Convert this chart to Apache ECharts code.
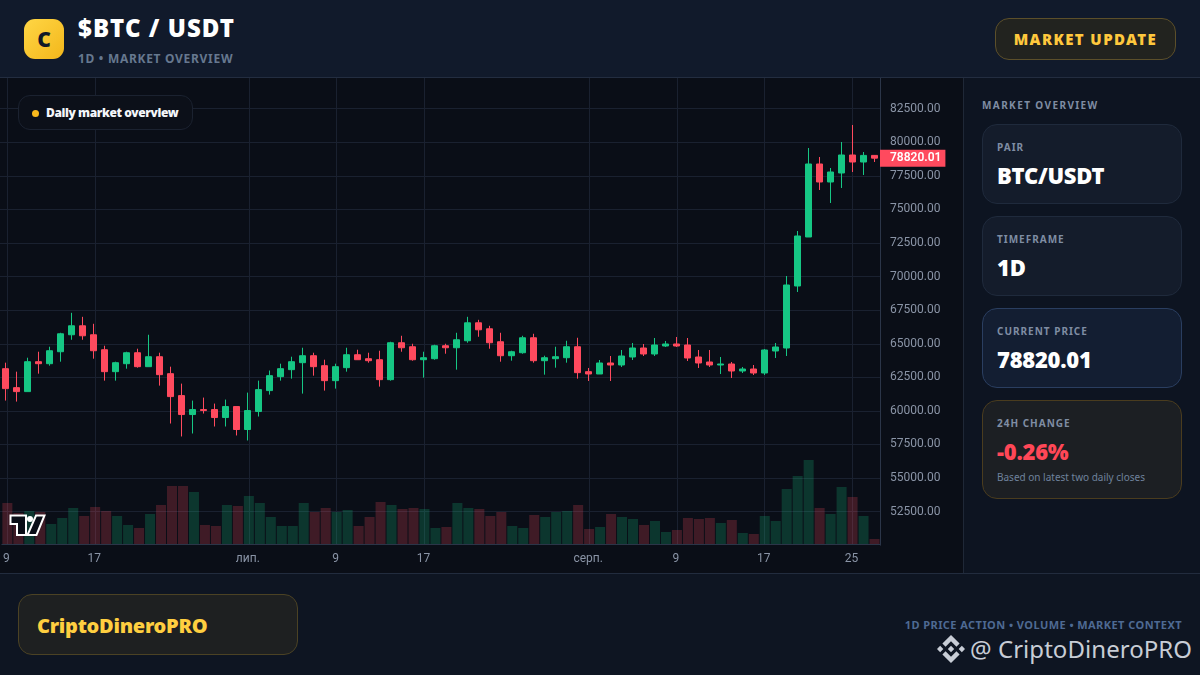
<!DOCTYPE html>
<html lang="uk"><head><meta charset="utf-8">
<script src="https://cdn.jsdelivr.net/npm/echarts@6/dist/echarts.min.js"></script>
<style>
*{box-sizing:border-box;margin:0;padding:0}
html,body{width:1200px;height:675px;overflow:hidden;background:#0d1421;font-family:"Noto Sans",sans-serif}
.abs{position:absolute}
#header{left:0;top:0;width:1200px;height:78px;background:#111a2b;border-bottom:1px solid #232d40}
#logo{left:24px;top:19px;width:40px;height:40px;border-radius:11px;background:linear-gradient(135deg,#ffd645,#f3b71b);color:#111827;font-weight:900;font-size:21px;line-height:40px;text-align:center}
#title{left:78px;top:11px;font-size:24px;line-height:34px;font-weight:900;color:#fff;letter-spacing:1.05px;white-space:nowrap}
#sub{left:78px;top:50px;font-size:12px;line-height:18px;font-weight:700;letter-spacing:.7px;color:#66788f;white-space:nowrap}
#btn{left:995px;top:18px;width:181px;height:42px;border-radius:14px;background:#22231f;border:1px solid #5c4f2a;color:#ffc83d;font-weight:900;font-size:15px;line-height:40px;text-align:center;letter-spacing:1.4px}
#chart{left:0;top:70px;width:963px;height:503px;background:#0a0e17}
#badge{left:18px;top:95px;width:175px;height:35px;border-radius:12px;background:#0c1019;border:1px solid #1b2230;color:#f4f6fa;font-size:12px;font-weight:900;line-height:33px;padding-left:27px;white-space:nowrap;letter-spacing:-.4px}
#badge i{position:absolute;left:13px;top:14px;width:7px;height:7px;border-radius:50%;background:#f9b91d}
#side{left:963px;top:78px;width:237px;height:495px;background:#0d1421;border-left:1px solid #1f2837}
#sideT{left:982px;top:98px;font-size:10px;line-height:14px;font-weight:700;letter-spacing:1.4px;color:#7f8da3;white-space:nowrap}
.card{position:absolute;left:982px;width:200px;border-radius:15px;background:#141c2b;border:1px solid #1f2a3c}
.card .l{position:absolute;left:14px;top:15px;font-size:10px;line-height:14px;font-weight:700;letter-spacing:1px;color:#7f8da3;white-space:nowrap}
.card .v{position:absolute;left:14px;top:33px;font-size:22px;line-height:34px;font-weight:900;color:#fff;white-space:nowrap;letter-spacing:-.25px}
.card .n{position:absolute;left:14px;top:69px;font-size:10px;line-height:14px;color:#6f829c;white-space:nowrap}
#footer{left:0;top:573px;width:1200px;height:102px;background:#0e1522;border-top:1px solid #222c3e}
#brand{left:18px;top:594px;width:280px;height:61px;border-radius:14px;background:#1e2021;border:1px solid #4b4224;color:#ffcf40;font-size:20px;font-weight:900;line-height:62px;padding-left:18px;letter-spacing:-.27px}
#foot{right:18px;top:617px;font-size:11px;line-height:16px;font-weight:700;letter-spacing:.44px;color:#4e6a93;white-space:nowrap}
#wm{left:970px;top:631px;font-size:24px;line-height:36px;color:#c8cdd6;white-space:nowrap;letter-spacing:.05px}
</style></head><body>
<div id="chart" class="abs"></div>
<div id="header" class="abs"></div>
<div id="logo" class="abs">C</div>
<div id="title" class="abs">$BTC / USDT</div>
<div id="sub" class="abs">1D • MARKET OVERVIEW</div>
<div id="btn" class="abs">MARKET UPDATE</div>
<div id="badge" class="abs"><i></i>Daily market overview</div>
<svg class="abs" style="left:9px;top:514px" width="37" height="22" viewBox="0 0 37 22"><path d="M1.500 1.500H17V21H8V10H1.500Z" fill="#0a0e17" stroke="#fff" stroke-width="2"/><circle cx="21" cy="5" r="3" fill="#fff"/><path d="M27 1.500H35.500L27.500 21H18.500Z" fill="#0a0e17" stroke="#fff" stroke-width="2"/></svg>
<div id="side" class="abs"></div>
<div id="sideT" class="abs">MARKET OVERVIEW</div>
<div class="card" style="top:124px;height:80px"><div class="l">PAIR</div><div class="v">BTC/USDT</div></div>
<div class="card" style="top:216px;height:80px"><div class="l">TIMEFRAME</div><div class="v">1D</div></div>
<div class="card" style="top:308px;height:80px;background:#131e32;border-color:#2a3e60"><div class="l">CURRENT PRICE</div><div class="v">78820.01</div></div>
<div class="card" style="top:400px;height:99px;background:#1c1f23;border-color:#4a3c1e"><div class="l">24H CHANGE</div><div class="v" style="color:#ff4757">-0.26%</div><div class="n">Based on latest two daily closes</div></div>
<div id="footer" class="abs"></div>
<div id="brand" class="abs">CriptoDineroPRO</div>
<div id="foot" class="abs">1D PRICE ACTION • VOLUME • MARKET CONTEXT</div>
<svg class="abs" style="left:937px;top:635px" width="28" height="28" viewBox="0 0 126.61 126.61" fill="#c8cdd6"><path d="M38.73 53.2l24.59-24.58 24.6 24.6 14.3-14.31L63.32 0 24.42 38.9zM0 63.31l14.3-14.31 14.31 14.31-14.31 14.3zM38.73 73.41l24.59 24.59 24.6-24.6 14.31 14.29-38.9 38.91-38.91-38.88zM98 63.31l14.3-14.31 14.31 14.3-14.31 14.32zM77.83 63.3L63.32 48.78 52.59 59.51l-1.24 1.23-2.54 2.54 14.51 14.5 14.51-14.47z"/></svg>
<div id="wm" class="abs">@ CriptoDineroPRO</div>
<script>
const opens=[63144,61733,61436,63664,63515,64406,65669,66337,65669,64555,62921,63515,64332,63293,64035,62773,61139,59729,60100,60100,59506,60323,58615,59952,61511,62550,63070,63590,64109,63367,62253,63218,64183,63887,63812,62327,65075,64777,63812,63887,64852,64703,65223,66560,66114,65149,64109,64332,65446,63738,63887,63961,64777,62921,62748,63567,63418,64014,64684,64237,64833,64982,64908,64014,63642,63418,63493,62972,63120,62823,64461,64684,69301,72949,78385,77045,77715,79055,78533,79025];
const closes=[61659,61436,63664,63515,64480,65743,66337,65594,64480,62921,63590,64332,63293,64035,62699,61065,59729,60100,60026,59506,60323,58615,60026,61585,62624,63144,63664,64109,63293,62253,63293,64183,63812,63738,62327,65075,64703,63812,63961,64852,64703,65297,66560,66040,65075,64109,64406,65446,63738,63961,64035,64777,62847,62748,63567,63418,64088,64684,64237,64908,64982,64833,63940,63567,63418,63493,62972,63120,62823,64535,64759,69375,73024,78385,77045,77789,79055,78533,79025,78820.01];
const lows=[60768,60694,61436,62773,63367,63664,65297,65297,63887,62253,62253,63144,63218,63293,61882,59060,58095,58318,59803,58838,58838,58170,57798,59580,61213,62253,62401,61288,62624,61510,61659,62921,63812,63590,61808,62253,64406,63738,62476,63812,64258,63070,65075,65520,64629,63664,63738,64258,63590,62699,63218,63590,62401,62227,62748,62227,63269,63790,64088,64088,64759,64759,63716,63195,63269,62748,62450,62822,62674,62674,63940,64088,68854,72949,76449,75481,76598,77789,77566,78533];
const highs=[63590,62921,63961,64406,64778,65817,67302,67005,66485,64852,63664,64406,64629,65669,64332,63293,62030,60768,60991,60545,60842,60323,61362,62253,63005,63515,64035,64703,64332,63812,63515,64703,64555,64332,64481,65149,65594,65000,64406,64926,65000,65817,67005,66782,66337,65817,64480,65594,65743,64109,64777,65223,65446,63195,63790,64088,64535,65056,64982,65429,65205,65503,65429,64535,64535,64014,63642,63269,63418,64610,65056,70045,73396,79576,78906,78087,80023,81289,79278,79040];
const volumes=[12300,9300,9900,9600,6000,7800,10800,8400,11100,9900,8400,5700,4800,9000,11700,17400,17400,15600,5700,5400,11700,11400,14400,12300,8100,5400,5400,12300,9600,10800,9600,10200,5400,8100,12600,11700,10500,10800,10500,4800,5100,12300,10800,10500,8400,9600,5400,4800,8700,8100,9600,9900,11700,4500,5100,9000,8100,7500,5700,6900,3600,4200,7800,7500,7800,6300,7200,3300,3000,8400,6900,16500,20400,25200,10800,9000,17100,14100,8400,1500];
const dayLabels=['9','10','11','12','13','14','15','16','17','18','19','20','21','22','23','24','25','26','27','28','29','30','лип.','2','3','4','5','6','7','8','9','10','11','12','13','14','15','16','17','18','19','20','21','22','23','24','25','26','27','28','29','30','31','серп.','2','3','4','5','6','7','8','9','10','11','12','13','14','15','16','17','18','19','20','21','22','23','24','25','26','27'];
const shownTicks=[0,8,22,30,38,53,61,69,77];
const priceTicks={min:50000,max:85000,step:2500};
const lastPrice=78820.01;

const UP='#16c784',DOWN='#ff4a5e',UPV='rgba(22,199,132,0.22)',DOWNV='rgba(255,77,94,0.22)';
const GRID='#1a2130',AXIS='#2b3548',TXT='#8a94a6',FF='Roboto,sans-serif';
const isShown=i=>shownTicks.includes(i);
const chart=echarts.init(document.getElementById('chart'),null,{renderer:'canvas'});
chart.setOption({
 animation:false,
 grid:[{left:0,width:880,top:5.15,height:470.05},{left:0,width:880,top:8,height:466}],
 xAxis:[
  {type:'category',gridIndex:0,data:dayLabels,show:false},
  {type:'category',gridIndex:1,data:dayLabels,
   axisLine:{show:true,lineStyle:{color:AXIS,width:1}},axisTick:{show:false},
   axisLabel:{color:TXT,fontFamily:FF,fontSize:12,margin:9,padding:[0,2,0,0],interval:i=>isShown(i),hideOverlap:false},
   splitLine:{show:true,alignWithLabel:true,interval:i=>isShown(i),lineStyle:{color:GRID,width:1}}}
 ],
 yAxis:[
  {type:'value',gridIndex:0,position:'right',min:priceTicks.min,max:priceTicks.max,interval:priceTicks.step,
   axisLine:{show:true,lineStyle:{color:AXIS,width:1}},axisTick:{show:false},
   axisLabel:{color:TXT,fontFamily:FF,fontSize:12,margin:10,lineHeight:15,padding:[3,0,0,0],showMinLabel:false,showMaxLabel:false,formatter:v=>v.toFixed(2)},
   splitLine:{show:true,showMinLine:false,lineStyle:{color:GRID,width:1}}},
  {type:'value',gridIndex:1,min:0,max:139800,show:false,splitLine:{show:false}}
 ],
 series:[
  {type:'bar',xAxisIndex:1,yAxisIndex:1,barWidth:10,silent:true,
   data:volumes.map((v,i)=>({value:v,itemStyle:{color:closes[i]>=opens[i]?UPV:DOWNV}}))},
  {type:'candlestick',xAxisIndex:0,yAxisIndex:0,barWidth:6,z:5,
   itemStyle:{color:UP,color0:DOWN,borderColor:UP,borderColor0:DOWN,borderWidth:1},
   data:opens.map((o,i)=>[o,closes[i],lows[i],highs[i]]),
   markLine:{silent:true,symbol:'none',animation:false,lineStyle:{width:0,color:'transparent'},
    data:[{yAxis:lastPrice}],
    label:{show:true,position:'end',distance:0,formatter:()=>lastPrice.toFixed(2),color:'#fff',fontFamily:FF,fontWeight:600,fontSize:12,lineHeight:13,
     backgroundColor:DOWN,padding:[2,4,2,10],align:'left'}}}
 ]
});
</script>
</body></html>
